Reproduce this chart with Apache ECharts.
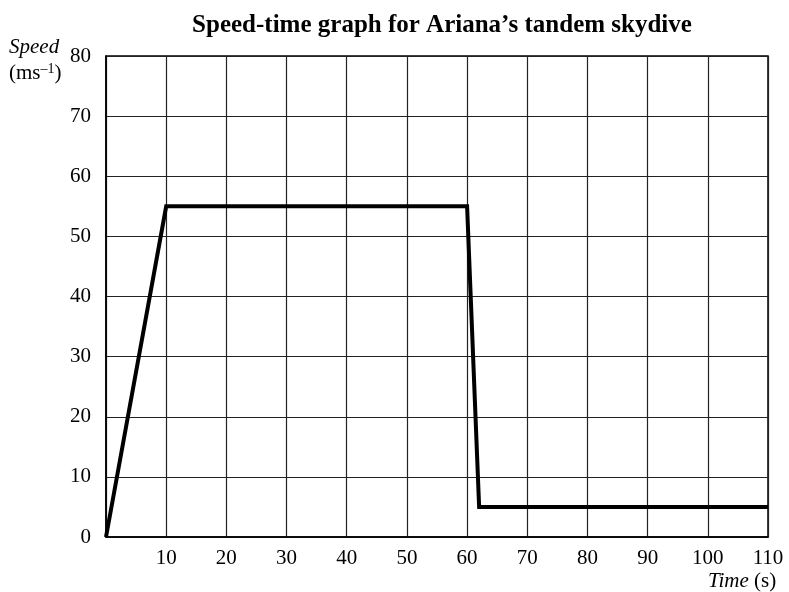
<!DOCTYPE html>
<html><head><meta charset="utf-8">
<script src="https://cdn.jsdelivr.net/npm/echarts@6/dist/echarts.min.js"></script>
<style>html,body{margin:0;padding:0;background:#fff}#c{width:789px;height:592px}</style>
</head><body><div id="c"></div>
<script>
var timeVals = [0, 10, 60, 62, 110];
var speedVals = [0, 55, 55, 5, 5];
var xTicks = [0,10,20,30,40,50,60,70,80,90,100,110];
var yTicks = [0,10,20,30,40,50,60,70,80];
var titleText = 'Speed-time graph for Ariana\u2019s tandem skydive';

var F = '"Liberation Serif", "Times New Roman", serif';
var chart = echarts.init(document.getElementById('c'));
var data = timeVals.map(function(t,i){return [t, speedVals[i]];});
chart.setOption({
  animation:false,
  backgroundColor:'#fff',
  title:{text:titleText,left:437,top:8,textAlign:'center',
    textStyle:{fontFamily:F,fontSize:25,fontWeight:'bold',color:'#000'}},
  grid:{left:106,right:21,top:56,bottom:55,show:true,borderColor:'#000',borderWidth:1.5},
  xAxis:{type:'value',min:0,max:110,interval:10,
    axisLine:{show:true,lineStyle:{color:'#000',width:1.5}},
    axisTick:{show:false},
    splitLine:{show:true,lineStyle:{color:'#222',width:1.2}},
    axisLabel:{fontFamily:F,fontSize:21,color:'#000',margin:11,
      formatter:function(v){return v===0?'':String(v);}}},
  yAxis:{type:'value',min:0,max:80,interval:10,
    axisLine:{show:true,lineStyle:{color:'#000',width:1.5}},
    axisTick:{show:false},
    splitLine:{show:true,lineStyle:{color:'#222',width:1.2}},
    axisLabel:{fontFamily:F,fontSize:21,color:'#000',margin:15}},
  series:[{type:'line',data:data,symbol:'none',
    lineStyle:{color:'#000',width:4,join:'miter'}}],
  graphic:[
    {type:'text',left:9,top:37,style:{text:'Speed',font:'italic 21px '+F,fill:'#000'}},
    {type:'text',left:9,top:62,style:{
      text:'(ms{sup|\u20131})',
      font:'21px '+F,fill:'#000',
      rich:{sup:{fontSize:14,fontFamily:F,verticalAlign:'top',padding:[0,0,9,0],fill:'#000'}}}},
    {type:'text',left:708,top:571,style:{
      text:'{i|Time} (s)',font:'21px '+F,fill:'#000',
      rich:{i:{fontStyle:'italic',fontSize:21,fontFamily:F}}}}
  ]
});
</script></body></html>
